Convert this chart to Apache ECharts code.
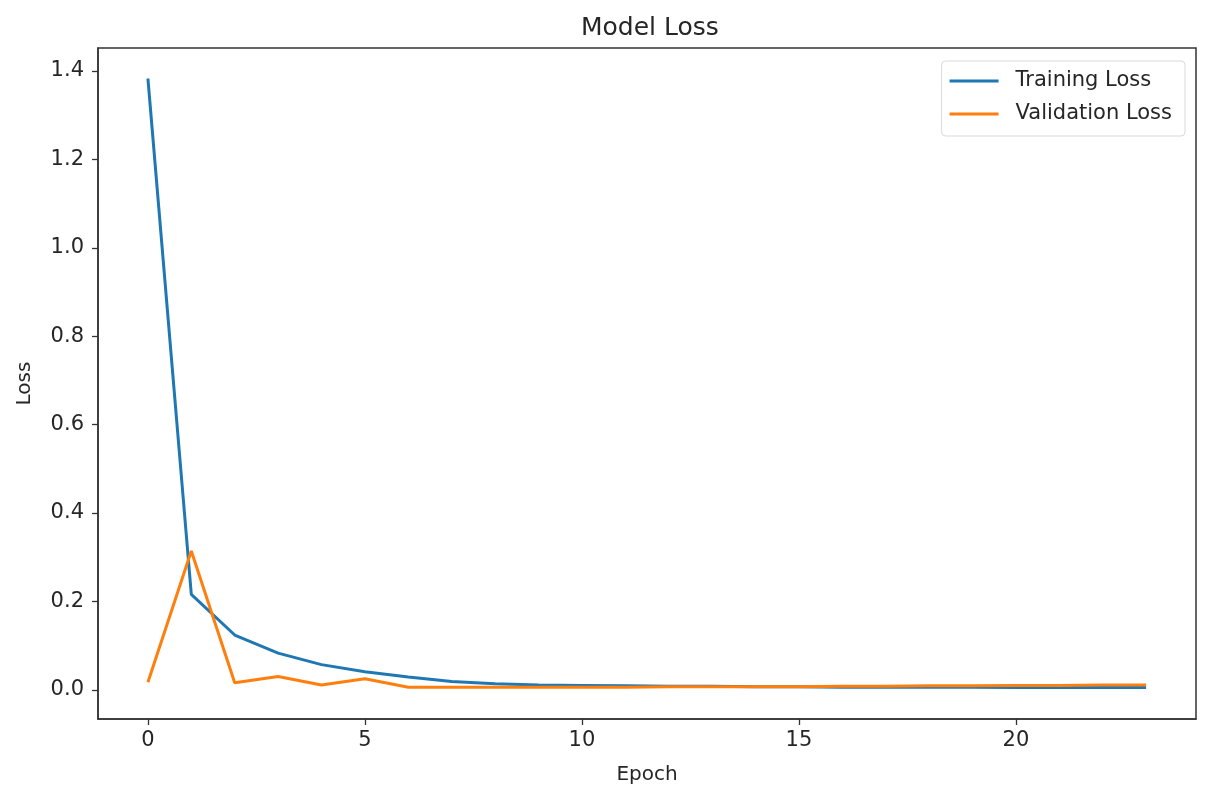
<!DOCTYPE html>
<html>
<head>
<meta charset="utf-8">
<script src="https://cdn.jsdelivr.net/npm/echarts@6/dist/echarts.min.js"></script>
<style>
  html, body { margin: 0; padding: 0; background: #fff; }
  #chart { width: 1210px; height: 804px; }
</style>
</head>
<body>
<div id="chart"></div>
<script>
// loss per epoch
var epochs = [];
for (var i = 0; i < 24; i++) epochs.push(i);
var trainLoss = [1.383, 0.216, 0.124, 0.083, 0.057, 0.041, 0.029, 0.019, 0.014, 0.011, 0.010, 0.009,
                 0.008, 0.008, 0.007, 0.007, 0.006, 0.006, 0.006, 0.006, 0.005, 0.005, 0.005, 0.005];
var valLoss = [0.017, 0.314, 0.016, 0.030, 0.011, 0.025, 0.006, 0.006, 0.006, 0.006, 0.006, 0.006,
               0.007, 0.007, 0.007, 0.007, 0.008, 0.008, 0.009, 0.009, 0.010, 0.010, 0.011, 0.011];
var xTicks = [0, 5, 10, 15, 20];
var yTicks = [0, 0.2, 0.4, 0.6, 0.8, 1.0, 1.2, 1.4];

function pairs(ys) {
    return epochs.map(function (e, i) { return [e, ys[i]]; });
}

var font = 'DejaVu Sans';
var ink = '#262626';
var myChart = echarts.init(document.getElementById('chart'));
var option = {
    backgroundColor: '#fff',
    animation: false,
    textStyle: { fontFamily: font },
    title: {
        text: 'Model Loss',
        left: 576,
        top: 11,
        textStyle: { fontFamily: font, fontSize: 25, fontWeight: 'normal', color: ink }
    },
    legend: {
        orient: 'vertical',
        right: 25,
        top: 61,
        padding: [8, 13, 10, 8],
        itemGap: 9,
        itemWidth: 49,
        itemHeight: 3,
        icon: 'rect',
        borderColor: '#d9d9d9',
        borderWidth: 1,
        borderRadius: 4,
        textStyle: { fontFamily: font, fontSize: 21, lineHeight: 24, color: ink, padding: [0, 0, 0, 12] },
        data: ['Training Loss', 'Validation Loss']
    },
    grid: {
        left: 98,
        right: 14,
        top: 48,
        bottom: 85,
        show: true,
        borderColor: '#333',
        borderWidth: 1.5
    },
    xAxis: {
        type: 'value',
        min: -1.15,
        max: 24.15,
        name: 'Epoch',
        nameLocation: 'middle',
        nameGap: 46,
        nameTextStyle: { fontFamily: font, fontSize: 20, color: ink },
        splitLine: { show: false },
        axisLine: { onZero: false, lineStyle: { color: '#333', width: 1.5 } },
        axisTick: { length: 6, lineStyle: { color: '#333', width: 1.3 }, customValues: xTicks },
        axisLabel: { fontFamily: font, fontSize: 21, color: ink, margin: 11, customValues: xTicks }
    },
    yAxis: {
        type: 'value',
        min: -0.066,
        max: 1.452,
        name: 'Loss',
        nameLocation: 'middle',
        nameGap: 63,
        nameTextStyle: { fontFamily: font, fontSize: 20, color: ink },
        splitLine: { show: false },
        axisLine: { show: true, onZero: false, lineStyle: { color: '#333', width: 1.5 } },
        axisTick: { show: true, length: 6, lineStyle: { color: '#333', width: 1.3 }, customValues: yTicks },
        axisLabel: {
            fontFamily: font, fontSize: 21, color: ink, margin: 14,
            customValues: yTicks,
            formatter: function (v) { return v.toFixed(1); }
        }
    },
    series: [
        {
            name: 'Training Loss',
            type: 'line',
            symbol: 'none',
            color: '#1f77b4',
            lineStyle: { width: 3, color: '#1f77b4' },
            data: pairs(trainLoss)
        },
        {
            name: 'Validation Loss',
            type: 'line',
            symbol: 'none',
            color: '#ff7f0e',
            lineStyle: { width: 3, color: '#ff7f0e' },
            data: pairs(valLoss)
        }
    ]
};
myChart.setOption(option);
</script>
</body>
</html>
